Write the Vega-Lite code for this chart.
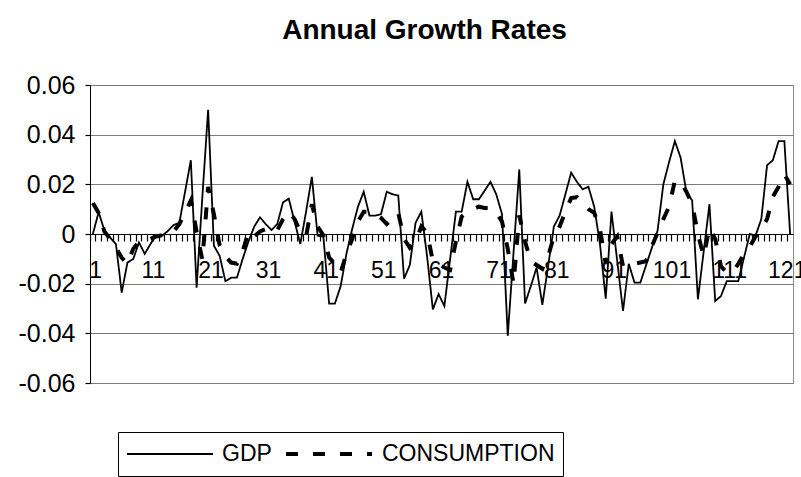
{
  "$schema": "https://vega.github.io/schema/vega-lite/v6.json",
  "width": 703,
  "height": 298,
  "autosize": {"type": "none"},
  "padding": {"left": 90, "top": 85, "right": 8, "bottom": 94},
  "background": "white",
  "title": {"text": "Annual Growth Rates", "font": "Liberation Sans", "fontSize": 28, "fontWeight": "bold", "offset": 28, "dx": -17, "anchor": "middle", "color": "black"},
  "config": {"view": {"stroke": "#8c8c8c", "strokeWidth": 1}, "font": "Liberation Sans"},
  "data": {"values": [
    {"t":1,"GDP":0,"CONSUMPTION":0.0125},{"t":2,"GDP":0.0088,"CONSUMPTION":0.0085},{"t":3,"GDP":0.0014,"CONSUMPTION":0.001},{"t":4,"GDP":-0.0015,"CONSUMPTION":-0.002},{"t":5,"GDP":-0.004,"CONSUMPTION":-0.0055},
    {"t":6,"GDP":-0.0236,"CONSUMPTION":-0.0095},{"t":7,"GDP":-0.0115,"CONSUMPTION":-0.012},{"t":8,"GDP":-0.0101,"CONSUMPTION":-0.006},{"t":9,"GDP":-0.0034,"CONSUMPTION":-0.003},{"t":10,"GDP":-0.008,"CONSUMPTION":-0.0025},
    {"t":11,"GDP":-0.004,"CONSUMPTION":-0.002},{"t":12,"GDP":-0.0004,"CONSUMPTION":-0.001},{"t":13,"GDP":-0.0007,"CONSUMPTION":-0.0005},{"t":14,"GDP":0.0012,"CONSUMPTION":-0.0005},{"t":15,"GDP":0.0036,"CONSUMPTION":0.001},
    {"t":16,"GDP":0.0045,"CONSUMPTION":0.004},{"t":17,"GDP":0.017,"CONSUMPTION":0.0085},{"t":18,"GDP":0.0297,"CONSUMPTION":0.0135},{"t":19,"GDP":-0.0216,"CONSUMPTION":0.001},{"t":20,"GDP":0.015,"CONSUMPTION":-0.0105},
    {"t":21,"GDP":0.05,"CONSUMPTION":0.019},{"t":22,"GDP":-0.0047,"CONSUMPTION":0.008},{"t":23,"GDP":-0.0088,"CONSUMPTION":-0.0045},{"t":24,"GDP":-0.019,"CONSUMPTION":-0.009},{"t":25,"GDP":-0.0176,"CONSUMPTION":-0.0115},
    {"t":26,"GDP":-0.0176,"CONSUMPTION":-0.012},{"t":27,"GDP":-0.01,"CONSUMPTION":-0.007},{"t":28,"GDP":-0.003,"CONSUMPTION":0.001},{"t":29,"GDP":0.003,"CONSUMPTION":-0.001},{"t":30,"GDP":0.0067,"CONSUMPTION":0.001},
    {"t":31,"GDP":0.004,"CONSUMPTION":0.002},{"t":32,"GDP":0.0016,"CONSUMPTION":0.003},{"t":33,"GDP":0.004,"CONSUMPTION":0.0015},{"t":34,"GDP":0.0128,"CONSUMPTION":0.006},{"t":35,"GDP":0.0142,"CONSUMPTION":0.009},
    {"t":36,"GDP":0.005,"CONSUMPTION":0.006},{"t":37,"GDP":-0.004,"CONSUMPTION":0.001},{"t":38,"GDP":0.009,"CONSUMPTION":-0.001},{"t":39,"GDP":0.023,"CONSUMPTION":0.012},{"t":40,"GDP":-0.0007,"CONSUMPTION":0.003},
    {"t":41,"GDP":-0.001,"CONSUMPTION":-0.0005},{"t":42,"GDP":-0.028,"CONSUMPTION":-0.0095},{"t":43,"GDP":-0.028,"CONSUMPTION":-0.012},{"t":44,"GDP":-0.021,"CONSUMPTION":-0.0155},{"t":45,"GDP":-0.008,"CONSUMPTION":-0.008},
    {"t":46,"GDP":0.002,"CONSUMPTION":-0.002},{"t":47,"GDP":0.011,"CONSUMPTION":0.005},{"t":48,"GDP":0.017,"CONSUMPTION":0.009},{"t":49,"GDP":0.0074,"CONSUMPTION":0.009},{"t":50,"GDP":0.0074,"CONSUMPTION":0.008},
    {"t":51,"GDP":0.008,"CONSUMPTION":0.0065},{"t":52,"GDP":0.017,"CONSUMPTION":0.004},{"t":53,"GDP":0.016,"CONSUMPTION":0.006},{"t":54,"GDP":0.0155,"CONSUMPTION":0.0085},{"t":55,"GDP":-0.018,"CONSUMPTION":-0.002},
    {"t":56,"GDP":-0.0125,"CONSUMPTION":-0.0055},{"t":57,"GDP":0.0045,"CONSUMPTION":-0.003},{"t":58,"GDP":0.009,"CONSUMPTION":0.003},{"t":59,"GDP":-0.009,"CONSUMPTION":0.0005},{"t":60,"GDP":-0.0304,"CONSUMPTION":-0.011},
    {"t":61,"GDP":-0.0242,"CONSUMPTION":-0.012},{"t":62,"GDP":-0.029,"CONSUMPTION":-0.0135},{"t":63,"GDP":-0.01,"CONSUMPTION":-0.0145},{"t":64,"GDP":0.009,"CONSUMPTION":-0.003},{"t":65,"GDP":0.009,"CONSUMPTION":0.007},
    {"t":66,"GDP":0.021,"CONSUMPTION":0.009},{"t":67,"GDP":0.014,"CONSUMPTION":0.01},{"t":68,"GDP":0.014,"CONSUMPTION":0.011},{"t":69,"GDP":0.0175,"CONSUMPTION":0.0105},{"t":70,"GDP":0.021,"CONSUMPTION":0.0105},
    {"t":71,"GDP":0.016,"CONSUMPTION":0.0085},{"t":72,"GDP":0.008,"CONSUMPTION":0.005},{"t":73,"GDP":-0.041,"CONSUMPTION":-0.006},{"t":74,"GDP":-0.0075,"CONSUMPTION":-0.02},{"t":75,"GDP":0.026,"CONSUMPTION":0.0075},
    {"t":76,"GDP":-0.028,"CONSUMPTION":-0.003},{"t":77,"GDP":-0.021,"CONSUMPTION":-0.011},{"t":78,"GDP":-0.0135,"CONSUMPTION":-0.0125},{"t":79,"GDP":-0.0285,"CONSUMPTION":-0.014},{"t":80,"GDP":-0.013,"CONSUMPTION":-0.009},
    {"t":81,"GDP":0.003,"CONSUMPTION":-0.001},{"t":82,"GDP":0.0074,"CONSUMPTION":0.003},{"t":83,"GDP":0.016,"CONSUMPTION":0.009},{"t":84,"GDP":0.0247,"CONSUMPTION":0.0145},{"t":85,"GDP":0.021,"CONSUMPTION":0.0148},
    {"t":86,"GDP":0.018,"CONSUMPTION":0.012},{"t":87,"GDP":0.019,"CONSUMPTION":0.01},{"t":88,"GDP":0.011,"CONSUMPTION":0.0085},{"t":89,"GDP":-0.004,"CONSUMPTION":0.002},{"t":90,"GDP":-0.026,"CONSUMPTION":-0.012},
    {"t":91,"GDP":0.009,"CONSUMPTION":-0.004},{"t":92,"GDP":-0.011,"CONSUMPTION":-0.001},{"t":93,"GDP":-0.031,"CONSUMPTION":-0.013},{"t":94,"GDP":-0.012,"CONSUMPTION":-0.013},{"t":95,"GDP":-0.0196,"CONSUMPTION":-0.012},
    {"t":96,"GDP":-0.0196,"CONSUMPTION":-0.0115},{"t":97,"GDP":-0.0126,"CONSUMPTION":-0.011},{"t":98,"GDP":-0.0056,"CONSUMPTION":-0.005},{"t":99,"GDP":0.0014,"CONSUMPTION":0.0005},{"t":100,"GDP":0.02,"CONSUMPTION":0.006},
    {"t":101,"GDP":0.029,"CONSUMPTION":0.011},{"t":102,"GDP":0.0374,"CONSUMPTION":0.0215},{"t":103,"GDP":0.0307,"CONSUMPTION":0.021},{"t":104,"GDP":0.0169,"CONSUMPTION":0.017},{"t":105,"GDP":0.0135,"CONSUMPTION":0.012},
    {"t":106,"GDP":-0.0263,"CONSUMPTION":0},{"t":107,"GDP":-0.007,"CONSUMPTION":-0.009},{"t":108,"GDP":0.012,"CONSUMPTION":0.0025},{"t":109,"GDP":-0.027,"CONSUMPTION":-0.002},{"t":110,"GDP":-0.025,"CONSUMPTION":-0.013},
    {"t":111,"GDP":-0.019,"CONSUMPTION":-0.0155},{"t":112,"GDP":-0.019,"CONSUMPTION":-0.0155},{"t":113,"GDP":-0.019,"CONSUMPTION":-0.012},{"t":114,"GDP":-0.0095,"CONSUMPTION":-0.008},{"t":115,"GDP":0,"CONSUMPTION":-0.005},
    {"t":116,"GDP":-0.0007,"CONSUMPTION":-0.001},{"t":117,"GDP":0.006,"CONSUMPTION":0.002},{"t":118,"GDP":0.0277,"CONSUMPTION":0.006},{"t":119,"GDP":0.0297,"CONSUMPTION":0.015},{"t":120,"GDP":0.0374,"CONSUMPTION":0.019},
    {"t":121,"GDP":0.0374,"CONSUMPTION":0.024},{"t":122,"GDP":0,"CONSUMPTION":0.02}
  ]},
  "transform": [{"fold": ["GDP", "CONSUMPTION"], "as": ["series", "value"]}],
  "mark": {"type": "line"},
  "encoding": {
    "x": {
      "field": "t", "type": "ordinal",
      "scale": {"type": "band", "paddingInner": 0, "paddingOuter": 0},
      "axis": {
        "orient": "bottom", "offset": -149, "title": null, "grid": false,
        "bandPosition": 0, "labelOffset": 2.88, "labelAngle": 0,
        "labelExpr": "(datum.value - 1) % 10 === 0 ? datum.label : ''",
        "labelOverlap": false, "labelFlush": false, "labelBound": false,
        "domainColor": "black", "domainWidth": 1, "ticks": true, "tickColor": "black", "tickOpacity": 1, "tickSize": 7, "tickWidth": 1.2,
        "labelFont": "Liberation Sans", "labelFontSize": 23, "labelColor": "black", "labelPadding": 18
      }
    },
    "y": {
      "field": "value", "type": "quantitative",
      "scale": {"domain": [-0.06, 0.06], "nice": false},
      "axis": {
        "title": null,
        "values": [-0.06, -0.04, -0.02, 0, 0.02, 0.04, 0.06],
        "labelExpr": "datum.value === 0 ? '0' : (datum.value < 0 ? '-' + format(-datum.value, '.2f') : format(datum.value, '.2f'))",
        "labelFont": "Liberation Sans", "labelFontSize": 25, "labelColor": "black", "labelPadding": 10,
        "ticks": true, "tickSize": 5, "tickColor": "black", "tickOpacity": 1, "tickWidth": 1.2, "domainColor": "black",
        "grid": true, "gridColor": "#7a7a7a", "gridWidth": 1
      }
    },
    "color": {
      "field": "series", "type": "nominal",
      "scale": {"domain": ["GDP", "CONSUMPTION"], "range": ["black", "black"]},
      "legend": {"orient": "none", "legendX": 28, "legendY": 347, "direction": "horizontal", "title": null, "symbolType": "stroke", "symbolSize": 7396, "clipHeight": 28, "labelFont": "Liberation Sans", "labelFontSize": 23, "labelColor": "black", "labelOffset": 8, "columnPadding": 12, "padding": 8, "strokeColor": "black", "labelLimit": 400}
    },
    "strokeDash": {
      "field": "series", "type": "nominal",
      "scale": {"domain": ["GDP", "CONSUMPTION"], "range": [[1, 0], [12, 15]]},
      "legend": {"orient": "none", "legendX": 28, "legendY": 347, "direction": "horizontal", "title": null, "symbolType": "stroke", "symbolSize": 7396, "clipHeight": 28, "labelFont": "Liberation Sans", "labelFontSize": 23, "labelColor": "black", "labelOffset": 8, "columnPadding": 12, "padding": 8, "strokeColor": "black", "labelLimit": 400}
    },
    "strokeWidth": {
      "field": "series", "type": "nominal",
      "scale": {"domain": ["GDP", "CONSUMPTION"], "range": [1.8, 4]},
      "legend": {"orient": "none", "legendX": 28, "legendY": 347, "direction": "horizontal", "title": null, "symbolType": "stroke", "symbolSize": 7396, "clipHeight": 28, "labelFont": "Liberation Sans", "labelFontSize": 23, "labelColor": "black", "labelOffset": 8, "columnPadding": 12, "padding": 8, "strokeColor": "black", "labelLimit": 400}
    }
  }
}
